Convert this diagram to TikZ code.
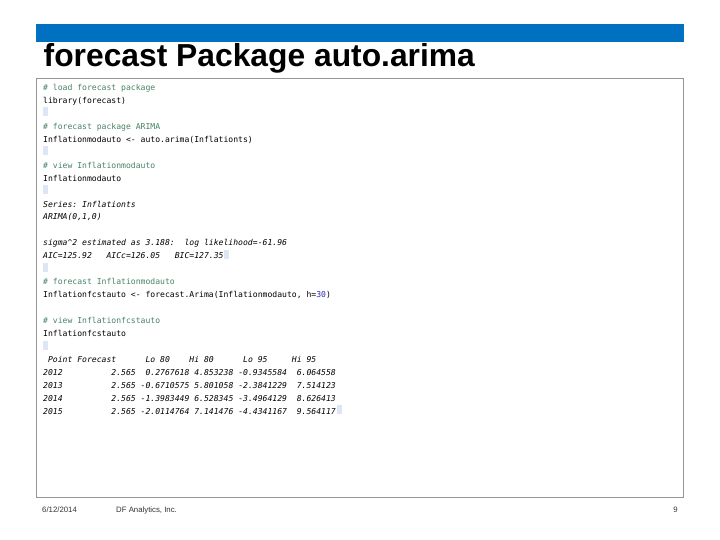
\documentclass[tikz,border=0pt]{standalone}
\usepackage{fontspec}
\setmainfont{Liberation Sans}
\newfontfamily\codefont{DejaVu Sans Mono}
\definecolor{barblue}{RGB}{0,112,192}
\definecolor{boxgray}{RGB}{150,150,150}
\definecolor{commentgreen}{RGB}{70,130,100}
\definecolor{numblue}{RGB}{40,40,190}
\definecolor{markblue}{RGB}{220,230,245}
\frenchspacing
\tikzset{
  codeline/.style={anchor=base west, inner sep=0pt, font=\codefont\fontsize{8.1}{9}\selectfont},
  comment/.style={codeline, text=commentgreen},
  output/.style={codeline, font=\codefont\fontsize{8.1}{9}\selectfont\itshape},
  blankmark/.style={fill=markblue},
  footer/.style={inner sep=0pt, text=black!80, font=\fontsize{7.8}{9}\selectfont},
}
\begin{document}
\begin{tikzpicture}[x=1pt,y=-1pt]
\useasboundingbox (0,0) rectangle (720,540);
\fill[barblue] (36,24) rectangle (684,42);
\node[anchor=base west, inner sep=0pt, font=\bfseries\fontsize{31.8}{36}\selectfont] (title) at (43.5,66.7) {forecast Package auto.arima};
\draw[boxgray, line width=1.2pt] (36.5,78.5) rectangle (683.5,497.5);
% R session, one node per line
\foreach \n/\t in {1/{\# load forecast package},4/{\# forecast package ARIMA},7/{\# view Inflationmodauto},16/{\# forecast Inflationmodauto},19/{\# view Inflationfcstauto}} {
  \node[comment] (L\n) at (43,{90.5+(\n-1)*12.95}) {\t};
}
\foreach \n/\t in {2/{library(forecast)},5/{Inflationmodauto <- auto.arima(Inflationts)},8/{Inflationmodauto},17/{Inflationfcstauto <- forecast.Arima(Inflationmodauto, h=\textcolor{numblue}{30})},20/{Inflationfcstauto}} {
  \node[codeline] (L\n) at (43,{90.5+(\n-1)*12.95}) {\t};
}
\foreach \n/\t in {10/{Series: Inflationts},11/{ARIMA(0,1,0)},13/{sigma\textasciicircum 2 estimated as 3.188:~~log likelihood=-61.96},14/{AIC=125.92~~~AICc=126.05~~~BIC=127.35},22/{~Point Forecast~~~~~~Lo 80~~~~Hi 80~~~~~~Lo 95~~~~~Hi 95},23/{2012~~~~~~~~~~2.565~~0.2767618 4.853238 -0.9345584~~6.064558},24/{2013~~~~~~~~~~2.565 -0.6710575 5.801058 -2.3841229~~7.514123},25/{2014~~~~~~~~~~2.565 -1.3983449 6.528345 -3.4964129~~8.626413},26/{2015~~~~~~~~~~2.565 -2.0114764 7.141476 -4.4341167~~9.564117}} {
  \node[output] (L\n) at (43,{90.5+(\n-1)*12.95}) {\t};
}
\foreach \n in {3,6,9,15,21} {
  \fill[blankmark] (43,{90.5+(\n-1)*12.95-9}) rectangle ++(5,9);
}
\fill[blankmark] ([xshift=0.5pt]L14.base east) ++(0,-9) rectangle ++(5,9);
\fill[blankmark] ([xshift=0.5pt]L26.base east) ++(0,-9) rectangle ++(5,9);
% footer
\node[footer, anchor=base west] (date) at (42,512) {6/12/2014};
\node[footer, anchor=base west] (company) at (116,512) {DF Analytics, Inc.};
\node[footer, anchor=base east] (page) at (678,512) {9};
\end{tikzpicture}
\end{document}
